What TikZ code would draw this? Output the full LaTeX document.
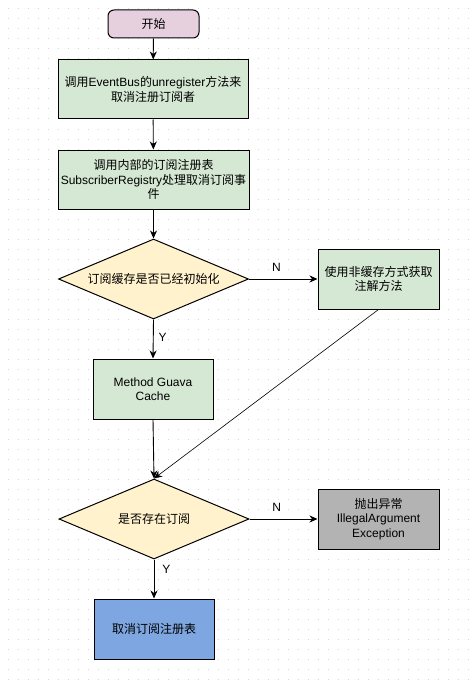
\documentclass[tikz,border=0pt]{standalone}
\usepackage{fontspec}
\setmainfont{Liberation Sans}
\newfontfamily\cjk{Noto Sans CJK SC}
\usetikzlibrary{shapes.geometric,arrows.meta}
\definecolor{startpink}{HTML}{E6D0DE}
\definecolor{boxgreen}{HTML}{D5E8D4}
\definecolor{diayellow}{HTML}{FFF2CC}
\definecolor{boxgray}{HTML}{B3B3B3}
\definecolor{boxblue}{HTML}{7EA6E0}
\definecolor{griddot}{HTML}{D6D6D6}
\tikzset{
  base/.style={draw=black, line width=1pt, align=center, inner sep=0pt,
    font=\fontsize{12}{14.5}\selectfont},
  startbox/.style={base, fill=startpink, rounded corners=6pt, minimum width=91pt, minimum height=28pt},
  procbox/.style={base, fill=boxgreen, minimum width=190pt, minimum height=59pt},
  smallbox/.style={base, minimum width=120pt, minimum height=60pt},
  decision/.style={base, diamond, aspect=2.38, fill=diayellow, minimum width=190pt, minimum height=80pt},
  conn/.style={draw=black, line width=0.9pt, -{Stealth[length=8pt,width=7pt,inset=2.5pt]}},
  thin/.style={draw=black, line width=0.6pt, -{Stealth[length=8pt,width=7pt,inset=2.5pt]}},
  lbl/.style={font=\fontsize{12}{14}\selectfont, inner sep=0pt}
}
\begin{document}
\begin{tikzpicture}[x=1pt,y=-1pt]
\useasboundingbox (0,0) rectangle (475,682);
\fill[white] (0,0) rectangle (475,682);
\foreach \i in {0,...,46} {
  \foreach \j in {0,...,67} {
    \fill[griddot] ({8+10*\i-0.5},{9+10*\j-0.5}) rectangle ++(1,1);
  }
}
\node[startbox] (start) at (153.5,24) {\cjk 开始};
\node[procbox] (b1) at (153,89.5) {{\cjk 调用}EventBus{\cjk 的}unregister{\cjk 方法来}\\{\cjk 取消注册订阅者}};
\node[procbox, minimum width=191pt] (b2) at (153.5,179.5) {{\cjk 调用内部的订阅注册表}\\SubscriberRegistry{\cjk 处理取消订阅事}\\{\cjk 件}};
\node[decision] (d1) at (153.5,279) {\cjk 订阅缓存是否已经初始化};
\node[smallbox, fill=boxgreen, minimum width=121pt] (nc) at (378.5,279) {{\cjk 使用非缓存方式获取}\\{\cjk 注解方法}};
\node[smallbox, fill=boxgreen] (gc) at (153,389) {Method Guava\\Cache};
\node[decision] (d2) at (154,519) {\cjk 是否存在订阅};
\node[smallbox, fill=boxgray, minimum width=121pt] (ex) at (378.5,519) {{\cjk 抛出异常}\\IllegalArgument\\Exception};
\node[smallbox, fill=boxblue] (fin) at (154,629) {\cjk 取消订阅注册表};

\draw[conn] (start) -- (b1);
\draw[conn] (b1) -- (b2);
\draw[conn] (b2) -- (d1);
\draw[conn] (d1) -- node[lbl, above=7pt, pos=0.4] {N} (nc);
\draw[conn] (d1.south) -- node[lbl, right=5pt, pos=0.45] {Y} (gc.north);
\draw[conn] (gc.south) -- (d2.north);
\draw[thin] (nc.south) -- (d2.north);
\draw[conn] (d2) -- node[lbl, above=7pt, pos=0.4] {N} (ex);
\draw[conn] (d2.south) -- node[lbl, right=8pt, pos=0.25] {Y} (fin.north);
\end{tikzpicture}
\end{document}
